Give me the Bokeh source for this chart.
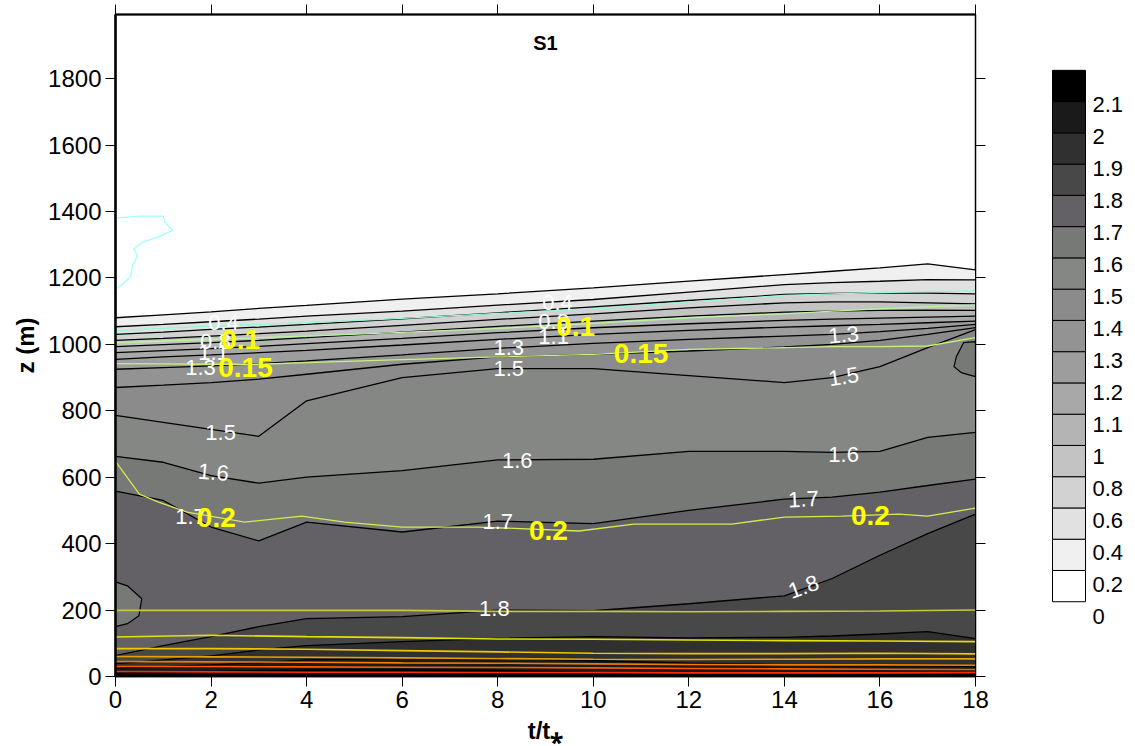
from bokeh.plotting import figure
from bokeh.models import Range1d, LinearAxis, FixedTicker, Label
from bokeh.layouts import row
from bokeh.embed import file_html
from bokeh.resources import INLINE
from bokeh.core.properties import value

# ---------------- data ----------------
t_nodes = [0, 1, 2, 3, 4, 6, 8, 10, 12, 14, 15, 16, 17, 18]

levels = [0.2, 0.4, 0.6, 0.8, 1.0, 1.1, 1.2, 1.3, 1.4, 1.5, 1.6, 1.7, 1.8, 1.9, 2.0, 2.1]
iso_02 = [1080, 1089, 1098, 1108, 1117, 1136, 1152, 1170, 1190, 1210, 1220, 1230, 1242, 1224]
iso_04 = [1053, 1060, 1068, 1076, 1085, 1100, 1118, 1135, 1157, 1180, 1186, 1190, 1195, 1194]
iso_06 = [1030, 1037, 1045, 1052, 1060, 1077, 1095, 1113, 1132, 1150, 1153, 1155, 1154, 1152]
iso_08 = [1012, 1018, 1025, 1032, 1040, 1057, 1075, 1092, 1110, 1125, 1128, 1128, 1125, 1122]
iso_10 = [993, 999, 1005, 1012, 1020, 1037, 1054, 1070, 1085, 1097, 1100, 1102, 1103, 1102]
iso_11 = [975, 981, 987, 994, 1002, 1018, 1035, 1050, 1062, 1072, 1076, 1079, 1082, 1085]
iso_12 = [955, 962, 968, 975, 982, 998, 1015, 1030, 1042, 1052, 1056, 1060, 1065, 1070]
iso_13 = [925, 930, 935, 942, 950, 968, 988, 1003, 1015, 1025, 1030, 1038, 1048, 1060]
iso_14 = [870, 877, 885, 895, 910, 940, 962, 970, 980, 992, 1000, 1012, 1030, 1050]
iso_15 = [786, 765, 744, 723, 830, 900, 927, 927, 906, 885, 900, 933, 990, 1044]
iso_16 = [663, 645, 605, 582, 600, 620, 652, 654, 678, 678, 675, 678, 720, 735]
iso_17 = [558, 530, 450, 408, 465, 435, 468, 460, 500, 534, 540, 555, 575, 594]
iso_18 = [63, 93, 120, 150, 174, 180, 200, 198, 219, 243, 295, 365, 430, 489]
iso_19 = [39, 50, 62, 80, 93, 105, 115, 120, 116, 118, 122, 128, 135, 114]
iso_20 = [25, 30, 35, 42, 50, 55, 55, 48, 40, 35, 33, 32, 32, 30]
iso_21 = [10, 12, 15, 18, 20, 20, 18, 12, 8, 6, 6, 6, 6, 6]
iso_lines = [iso_02, iso_04, iso_06, iso_08, iso_10, iso_11, iso_12, iso_13,
             iso_14, iso_15, iso_16, iso_17, iso_18, iso_19, iso_20, iso_21]

# closed contours
blob_left_t = [0, 0.25, 0.55, 0.49, 0.25, 0]
blob_left_z = [285, 273, 234, 183, 159, 150]
blob_right_t = [18, 17.75, 17.6, 17.55, 17.7, 18]
blob_right_z = [1008, 1005, 963, 933, 915, 903]

# colour bins: [0,0.2], [0.2,0.4], ..., [2.0,2.1], >2.1
bin_colors = ["#ffffff", "#f0f0f0", "#e1e1e1", "#d2d2d2", "#c3c3c3", "#b4b4b4",
              "#a8a8a8", "#9d9d9d", "#939393", "#8b8b8b", "#858785", "#777977",
              "#646166", "#484848", "#303030", "#1a1a1a", "#000000"]
cb_labels = ["0", "0.2", "0.4", "0.6", "0.8", "1", "1.1", "1.2", "1.3", "1.4",
             "1.5", "1.6", "1.7", "1.8", "1.9", "2", "2.1"]

# second variable (coloured lines)
ov_cyan_band = [1041, 1048, 1055, 1060, 1065, 1078, 1093, 1107, 1128, 1147, 1152, 1156, 1159, 1161]
ov_01 = [1005, 1010, 1015, 1020, 1025, 1036, 1048, 1063, 1080, 1092, 1100, 1107, 1113, 1119]
ov_015 = [942, 941, 940, 940, 945, 954, 962, 970, 985, 990, 993, 993, 995, 1020]
ov_02_t = [0, 0.5, 0.9, 1.5, 2.7, 3.9, 4.8, 6, 7.6, 9.7, 10.85, 12.9, 14, 15.2, 16.4, 17, 18]
ov_02_z = [648, 549, 525, 495, 465, 483, 465, 450, 450, 438, 459, 459, 480, 483, 489, 483, 507]
cyan_top_t = [0, 0.5, 1.0, 1.03, 1.19, 0.94, 0.57, 0.38, 0.46, 0.36, 0.31, 0]
cyan_top_z = [1380, 1386, 1386, 1368, 1344, 1326, 1308, 1287, 1266, 1239, 1203, 1164]

low_t = [0, 2, 4, 6, 8, 10, 12, 14, 16, 18]
ov_low_a = [199, 199, 199, 199, 196, 196, 195, 196, 197, 200]
ov_low_b = [119, 124, 120, 117, 113, 112, 110, 108, 107, 105]
ov_low_c = [84, 84, 82, 78, 74, 70, 69, 69, 70, 68]
ov_low_d = [60, 59, 58, 56, 54, 52, 51, 52, 53, 53]
ov_low_e = [45, 44, 43, 41, 40, 38, 36, 35, 35, 34]
ov_low_f = [30, 30, 29, 28, 27, 26, 24, 23, 22, 21]
ov_low_g = [15, 14, 13, 13, 12, 12, 11, 11, 11, 12]
low_lines = [ov_low_a, ov_low_b, ov_low_c, ov_low_d, ov_low_e, ov_low_f, ov_low_g]
low_colors = ["#c8c83a", "#e2e200", "#ecc800", "#e8a000", "#f07c00", "#ff5a00", "#ff2a00"]

# contour labels
w_text = ["0.4", "0.8", "1.1", "1.3", "0.4", "0.8", "1.1", "1.3", "1.5", "1.3", "1.5",
          "1.5", "1.6", "1.7", "1.6", "1.7", "1.6", "1.7", "1.8", "1.8"]
w_t = [2.26, 2.09, 2.05, 1.78, 9.25, 9.17, 9.17, 8.23, 8.23, 15.24, 15.24,
       2.2, 2.05, 1.57, 8.41, 8.0, 15.24, 14.4, 7.93, 14.4]
w_z = [1065, 1008, 975, 930, 1125, 1068, 1023, 990, 927, 1029, 903,
       735, 615, 483, 651, 468, 669, 534, 204, 270]
w_ang = [0, 0, 0, 0, 0, 0, 0, 0, 0, 0.08, 0.15,
         0, -0.08, 0, 0, 0, 0, 0.05, 0, 0.35]
y_text = ["0.1", "0.15", "0.2", "0.1", "0.15", "0.2", "0.2"]
y_t = [2.62, 2.72, 2.11, 9.63, 11.0, 9.06, 15.8]
y_z = [1014, 930, 480, 1053, 972, 441, 486]

x_ticks = [0, 2, 4, 6, 8, 10, 12, 14, 16, 18]
y_ticks = [0, 200, 400, 600, 800, 1000, 1200, 1400, 1600, 1800]

FONT = "Liberation Sans"

# ---------------- main plot ----------------
p = figure(width=1000, height=746, x_range=Range1d(0, 18), y_range=Range1d(0, 1993),
           output_backend="svg", toolbar_location=None,
           min_border_left=115, min_border_right=25, min_border_top=14, min_border_bottom=68,
           background_fill_color="white", border_fill_color="white")
p.grid.visible = False
p.outline_line_color = "black"
p.outline_line_width = 1.5

# filled bands (painter's order from top level downward)
zeros = [0] * len(t_nodes)
for j, iso in enumerate(iso_lines):
    p.varea(x=t_nodes, y1=zeros, y2=iso, fill_color=bin_colors[j + 1])
p.patch(blob_left_t, blob_left_z, fill_color=bin_colors[11], line_color="black", line_width=1.2)
p.patch(blob_right_t, blob_right_z, fill_color=bin_colors[11], line_color="black", line_width=1.2)

# black isolines
for iso in iso_lines:
    p.line(t_nodes, iso, line_color="black", line_width=1.3)

# coloured isolines of second field
p.line(cyan_top_t, cyan_top_z, line_color="#a0ffff", line_width=1.3)
p.line(t_nodes, ov_cyan_band, line_color="#9cf5d2", line_width=1.3)
p.line(t_nodes, ov_01, line_color="#b8f5a0", line_width=1.3)
p.line(t_nodes, ov_015, line_color="#c8f07a", line_width=1.3)
p.line(ov_02_t, ov_02_z, line_color="#d6ea50", line_width=1.3)
for zl, c in zip(low_lines, low_colors):
    p.line(low_t, zl, line_color=c, line_width=1.6)

# labels
p.text(x=w_t, y=w_z, text=w_text, angle=w_ang, text_color="white",
       text_font=value(FONT), text_font_size="22px",
       text_align="center", text_baseline="middle")
p.text(x=y_t, y=y_z, text=y_text, text_color="#ffff00",
       text_font=value(FONT), text_font_size="28px", text_font_style="bold",
       text_align="center", text_baseline="middle")

p.add_layout(Label(x=9, y=1908, text="S1", text_align="center", text_baseline="middle",
                   text_font=FONT, text_font_size="20px", text_font_style="bold",
                   text_color="black"))

# axes
for ax in (p.xaxis[0], p.yaxis[0]):
    ax.major_label_text_font = FONT
    ax.major_label_text_font_size = "24px"
    ax.major_label_text_color = "black"
    ax.axis_label_text_font = FONT
    ax.axis_label_text_font_size = "24px"
    ax.axis_label_text_font_style = "bold"
    ax.axis_label_text_color = "black"
    ax.axis_line_color = "black"
    ax.major_tick_line_color = "black"
    ax.major_tick_out = 10
    ax.major_tick_in = 0
    ax.minor_tick_line_color = None
    ax.major_label_standoff = 4
    ax.axis_label_standoff = 6
p.xaxis[0].ticker = FixedTicker(ticks=x_ticks)
p.yaxis[0].ticker = FixedTicker(ticks=y_ticks)
p.xaxis[0].axis_label = "t/t\u204e"
p.yaxis[0].axis_label = "z (m)"
p.yaxis[0].axis_line_width = 2.5
p.xaxis[0].axis_line_width = 1.5

# mirrored tick marks on top and right (minor ticks only, so no labels)
top_ax = LinearAxis(ticker=FixedTicker(ticks=[], minor_ticks=x_ticks),
                    minor_tick_out=10, minor_tick_in=0, minor_tick_line_color="black",
                    major_tick_line_color=None, axis_line_width=2, axis_line_color="black")
right_ax = LinearAxis(ticker=FixedTicker(ticks=[], minor_ticks=y_ticks),
                      minor_tick_out=10, minor_tick_in=0, minor_tick_line_color="black",
                      major_tick_line_color=None, axis_line_color="black")
p.add_layout(top_ax, "above")
p.add_layout(right_ax, "right")

# ---------------- colour bar ----------------
# its frame is aligned with the main frame (pixel rows 14..678), so use pixel units
cb = figure(width=135, height=746, x_range=Range1d(0, 135), y_range=Range1d(678, 14),
            output_backend="svg", toolbar_location=None,
            x_axis_location=None, y_axis_location=None, min_border=0)
cb.grid.visible = False
cb.outline_line_color = None
n = len(bin_colors)
bar_top, bar_bot = 70, 603
h = (bar_bot - bar_top) / n
cb.quad(left=[52] * n, right=[85] * n,
        bottom=[bar_bot - i * h for i in range(n)],
        top=[bar_bot - (i + 1) * h for i in range(n)],
        fill_color=bin_colors, line_color="black", line_width=1)
lab_top, lab_bot = 104, 618
lab_step = (lab_bot - lab_top) / (len(cb_labels) - 1)
cb.text(x=[92] * len(cb_labels), y=[lab_bot - k * lab_step for k in range(len(cb_labels))],
        text=cb_labels, text_font=value(FONT), text_font_size="22px",
        text_align="left", text_baseline="middle", text_color="black")

layout = row(p, cb)
open("out.html", "w").write(file_html(layout, INLINE))
